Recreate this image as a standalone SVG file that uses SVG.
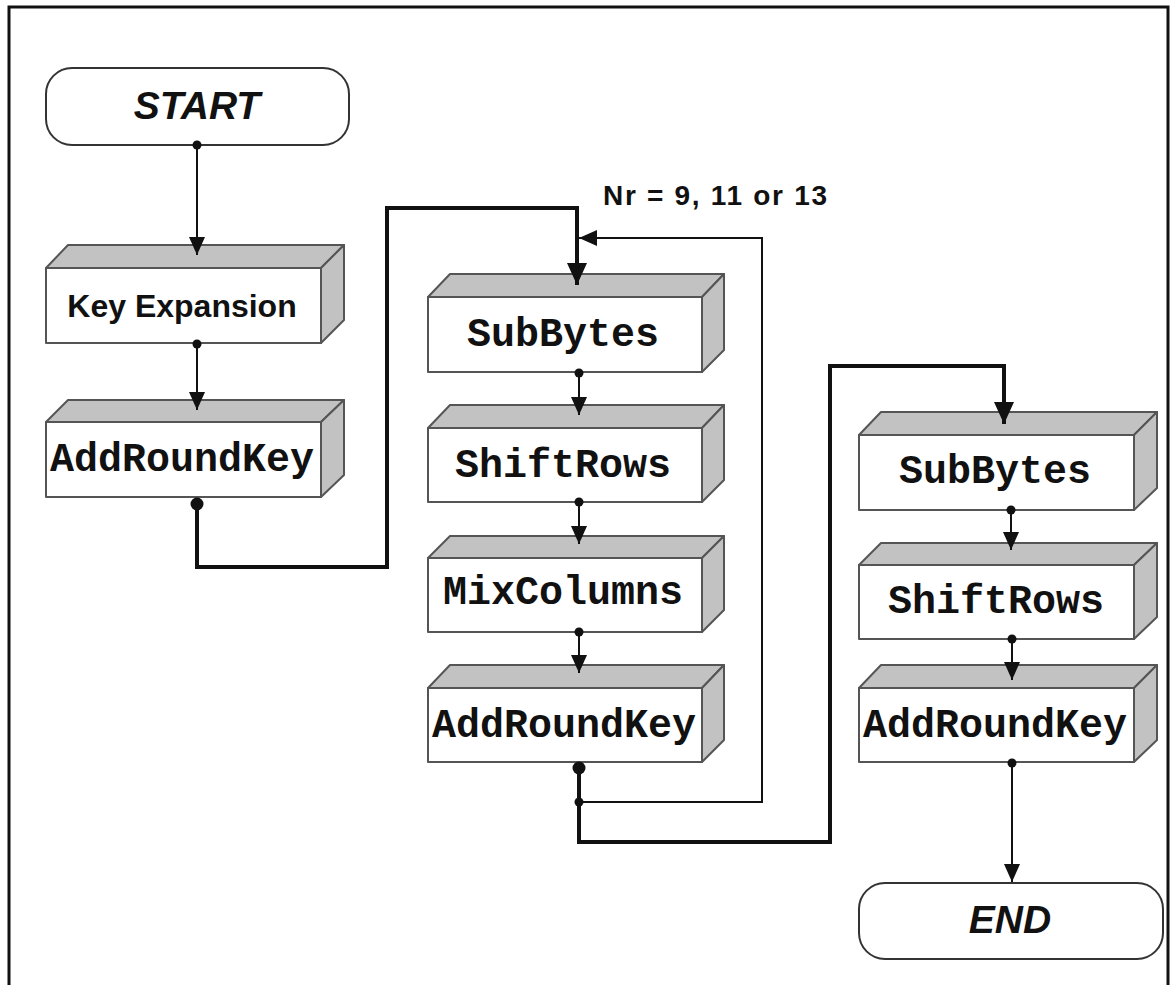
<svg xmlns="http://www.w3.org/2000/svg" width="1174" height="985" viewBox="0 0 1174 985">
<style>
.front{fill:#ffffff;stroke:#555;stroke-width:2;stroke-linejoin:round}
.side{fill:#c2c2c2;stroke:#555;stroke-width:2;stroke-linejoin:round}
.term{fill:#ffffff;stroke:#333;stroke-width:2}
.mono{font-family:"Liberation Mono","Courier New",monospace;font-weight:bold;font-size:40px;fill:#111;text-anchor:middle}
.sans{font-family:"Liberation Sans",Arial,sans-serif;font-weight:bold;fill:#111;text-anchor:middle}
.it{font-style:italic;font-size:39px}
.thin{fill:none;stroke:#111;stroke-width:2}
.thick{fill:none;stroke:#111;stroke-width:4}
.dot{fill:#111}
</style>
<defs>
<marker id="arr" viewBox="0 0 18 16" refX="18" refY="8" markerWidth="18" markerHeight="16" markerUnits="userSpaceOnUse" orient="auto">
<path d="M0,0 L18,8 L0,16 Z" fill="#111"/>
</marker>
<marker id="arrbig" viewBox="0 0 22 20" refX="22" refY="10" markerWidth="22" markerHeight="20" markerUnits="userSpaceOnUse" orient="auto">
<path d="M0,0 L22,10 L0,20 Z" fill="#111"/>
</marker>
</defs>
<rect x="0" y="0" width="1174" height="985" fill="#ffffff"/>
<rect x="9" y="7" width="1159" height="1010" fill="none" stroke="#111" stroke-width="3"/>

<g id="start">
<rect class="term" x="46" y="68" width="303" height="77" rx="26"/>
<text class="sans it" x="197" y="119">START</text>
</g>

<g id="key-expansion">
<rect class="front" x="46" y="268" width="275" height="75"/>
<polygon class="side" points="46,268 68,245 344,245 321,268"/>
<polygon class="side" points="321,268 344,245 344,320 321,343"/>
<text class="sans" x="182" y="317" font-size="32">Key Expansion</text>
</g>

<g id="addroundkey-1">
<rect class="front" x="46" y="422" width="275" height="75"/>
<polygon class="side" points="46,422 68,400 344,400 321,422"/>
<polygon class="side" points="321,422 344,400 344,475 321,497"/>
<text class="mono" x="182" y="471">AddRoundKey</text>
</g>

<g id="subbytes-1">
<rect class="front" x="428" y="297" width="274" height="75"/>
<polygon class="side" points="428,297 450,274 724,274 702,297"/>
<polygon class="side" points="702,297 724,274 724,350 702,372"/>
<text class="mono" x="563" y="346">SubBytes</text>
</g>

<g id="shiftrows-1">
<rect class="front" x="428" y="428" width="274" height="74"/>
<polygon class="side" points="428,428 450,405 724,405 702,428"/>
<polygon class="side" points="702,428 724,405 724,480 702,502"/>
<text class="mono" x="563" y="477">ShiftRows</text>
</g>

<g id="mixcolumns">
<rect class="front" x="428" y="558" width="274" height="74"/>
<polygon class="side" points="428,558 450,536 724,536 702,558"/>
<polygon class="side" points="702,558 724,536 724,610 702,632"/>
<text class="mono" x="563" y="604">MixColumns</text>
</g>

<g id="addroundkey-2">
<rect class="front" x="428" y="688" width="274" height="74"/>
<polygon class="side" points="428,688 450,665 724,665 702,688"/>
<polygon class="side" points="702,688 724,665 724,740 702,762"/>
<text class="mono" x="564" y="737">AddRoundKey</text>
</g>

<g id="subbytes-2">
<rect class="front" x="859" y="435" width="275" height="75"/>
<polygon class="side" points="859,435 881,412 1157,412 1134,435"/>
<polygon class="side" points="1134,435 1157,412 1157,488 1134,510"/>
<text class="mono" x="995" y="483">SubBytes</text>
</g>

<g id="shiftrows-2">
<rect class="front" x="859" y="565" width="275" height="74"/>
<polygon class="side" points="859,565 881,543 1157,543 1134,565"/>
<polygon class="side" points="1134,565 1157,543 1157,617 1134,639"/>
<text class="mono" x="996" y="613">ShiftRows</text>
</g>

<g id="addroundkey-3">
<rect class="front" x="859" y="688" width="275" height="74"/>
<polygon class="side" points="859,688 881,665 1157,665 1134,688"/>
<polygon class="side" points="1134,688 1157,665 1157,740 1134,762"/>
<text class="mono" x="995" y="737">AddRoundKey</text>
</g>

<g id="end">
<rect class="term" x="859" y="883" width="304" height="76" rx="26"/>
<text class="sans it" x="1010" y="933">END</text>
</g>

<g id="label-nr">
<text class="sans" x="715" y="205" font-size="28" textLength="224">Nr = 9, 11 or 13</text>
</g>

<g id="connectors">
<circle class="dot" cx="197" cy="145" r="4.5"/>
<path class="thin" d="M197,145 L197,255" marker-end="url(#arr)"/>
<circle class="dot" cx="197" cy="344" r="4.5"/>
<path class="thin" d="M197,344 L197,410" marker-end="url(#arr)"/>
<circle class="dot" cx="197" cy="504" r="6.5"/>
<path class="thick" d="M197,504 L197,567 L387,567 L387,208 L577,208 L577,285" marker-end="url(#arrbig)"/>
<circle class="dot" cx="579" cy="373" r="4.5"/>
<path class="thin" d="M579,373 L579,415" marker-end="url(#arr)"/>
<circle class="dot" cx="579" cy="502" r="4.5"/>
<path class="thin" d="M579,502 L579,544" marker-end="url(#arr)"/>
<circle class="dot" cx="579" cy="632" r="4.5"/>
<path class="thin" d="M579,632 L579,673" marker-end="url(#arr)"/>
<circle class="dot" cx="579" cy="768" r="6.5"/>
<path class="thick" d="M579,768 L579,842 L830,842 L830,366 L1004,366 L1004,424" marker-end="url(#arrbig)"/>
<circle class="dot" cx="579" cy="802" r="4.5"/>
<path class="thin" d="M579,802 L762,802 L762,238 L579,238" marker-end="url(#arr)"/>
<circle class="dot" cx="1011" cy="510" r="4.5"/>
<path class="thin" d="M1011,510 L1011,550" marker-end="url(#arr)"/>
<circle class="dot" cx="1012" cy="639" r="4.5"/>
<path class="thin" d="M1012,639 L1012,680" marker-end="url(#arr)"/>
<circle class="dot" cx="1012" cy="763" r="4.5"/>
<path class="thin" d="M1012,763 L1012,882" marker-end="url(#arr)"/>
</g>
</svg>
